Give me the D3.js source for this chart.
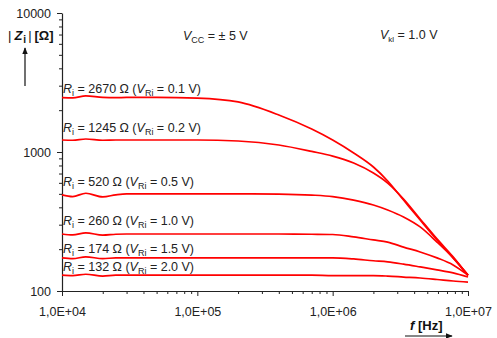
<!DOCTYPE html>
<html>
<head>
<meta charset="utf-8">
<script src="https://cdn.jsdelivr.net/npm/d3@7"></script>
<style>
  body { margin: 0; background: #fff; }
  svg { font-family: "Liberation Sans", Arial, sans-serif; }
</style>
</head>
<body>
<div id="chart"></div>
<script>
// frequencies (Hz) shared by all series
const freq = [1e4, 1.2e4, 1.5e4, 2e4, 2.5e4, 3e4, 5e4, 1e5, 2e5, 4e5, 7e5, 1e6,
  1.43e6, 2e6, 2.55e6, 3.34e6, 4.43e6, 5.9e6, 7.76e6, 1e7];

// |Zi| in ohm, one array per Ri
const z2670 = [2460, 2450, 2530, 2470, 2460, 2470, 2470, 2440, 2291, 1846, 1463, 1220,
  984, 780, 619, 451, 324, 233, 173, 130];
const z1245 = [1220, 1215, 1240, 1215, 1220, 1220, 1220, 1220, 1200, 1123, 1010, 935,
  833, 706, 598, 459, 330, 237, 176, 129];
const z520 = [492, 478, 505, 475, 492, 500, 500, 500, 500, 498, 490, 478,
  451, 416, 383, 341, 289, 225, 173, 130];
const z260 = [257, 253, 262, 252, 256, 257, 257, 257, 257, 257, 256, 255,
  245, 233, 225, 207, 191, 173, 154, 130];
const z174 = [173, 171, 176, 171, 173, 173, 173, 173, 173, 173, 173, 173,
  170, 165, 162, 156, 149, 142, 135, 126];
const z132 = [130, 129, 132, 128, 130, 130, 130, 130, 130, 130, 130, 129,
  129, 129, 128, 126, 124, 121, 118, 116];

const seriesValues = [z2670, z1245, z520, z260, z174, z132];
const riLabels = ['2670', '1245', '520', '260', '174', '132'];
const vriLabels = ['0.1', '0.2', '0.5', '1.0', '1.5', '2.0'];
const labelBaselines = [93, 132, 186, 225, 252.5, 270.5];

const xTicks = [1e4, 1e5, 1e6, 1e7];
const xTickLabels = ['1,0E+04', '1,0E+05', '1,0E+06', '1,0E+07'];
const yTicks = [100, 1000, 10000];
const yTickLabels = ['100', '1000', '10000'];

const W = 497, H = 338;
const svg = d3.select('#chart').append('svg')
  .attr('width', W).attr('height', H);

const x = d3.scaleLog().domain([1e4, 1e7]).range([62, 468]);
const y = d3.scaleLog().domain([100, 10000]).range([291, 13]);

// minor ticks
const minorX = [];
for (let e = 4; e < 7; e++) for (let k = 2; k <= 9; k++) minorX.push(k * Math.pow(10, e));
const minorY = [];
for (let e = 2; e < 4; e++) for (let k = 2; k <= 9; k++) minorY.push(k * Math.pow(10, e));

svg.append('g')
  .attr('transform', 'translate(0,291)')
  .call(d3.axisBottom(x).tickValues(minorX).tickSize(3).tickFormat(''))
  .call(g => g.select('.domain').remove())
  .selectAll('line').attr('stroke', '#222');

svg.append('g')
  .attr('transform', 'translate(62,0)')
  .call(d3.axisLeft(y).tickValues(minorY).tickSize(3).tickFormat(''))
  .call(g => g.select('.domain').remove())
  .selectAll('line').attr('stroke', '#222');

const xAxis = svg.append('g')
  .attr('transform', 'translate(0,291)')
  .call(d3.axisBottom(x).tickValues(xTicks).tickSize(5).tickSizeOuter(0)
    .tickFormat((d, i) => xTickLabels[i]));
xAxis.select('.domain').attr('stroke', '#222').attr('stroke-width', 1.2);
xAxis.selectAll('line').attr('stroke', '#222');
xAxis.selectAll('text').attr('fill', '#222').style('font-size', '12.5px').attr('y', 16);

const yAxis = svg.append('g')
  .attr('transform', 'translate(62,0)')
  .call(d3.axisLeft(y).tickValues(yTicks).tickSize(5).tickSizeOuter(0)
    .tickFormat((d, i) => yTickLabels[i]));
yAxis.select('.domain').attr('stroke', '#222').attr('stroke-width', 1.2);
yAxis.selectAll('line').attr('stroke', '#222');
yAxis.selectAll('text').attr('fill', '#222').style('font-size', '12.5px').attr('x', -11);

// curves
const line = d3.line()
  .x((d, i) => x(freq[i]))
  .y(d => y(d))
  .curve(d3.curveMonotoneX);

svg.append('g').selectAll('path')
  .data(seriesValues)
  .join('path')
  .attr('fill', 'none')
  .attr('stroke', '#ff0000')
  .attr('stroke-width', 1.7)
  .attr('d', d => line(d));

// series labels
riLabels.forEach((r, i) => {
  const t = svg.append('text')
    .attr('x', 63).attr('y', labelBaselines[i])
    .attr('fill', '#222').style('font-size', '12.5px');
  t.append('tspan').attr('font-style', 'italic').text('R');
  t.append('tspan').attr('dy', 3).style('font-size', '9px').text('i');
  t.append('tspan').attr('dy', -3).text(` = ${r} \u03A9  (`);
  t.append('tspan').attr('font-style', 'italic').text('V');
  t.append('tspan').attr('dy', 3).style('font-size', '9px').text('Ri');
  t.append('tspan').attr('dy', -3).text(` = ${vriLabels[i]} V)`);
});

// header notes
const vcc = svg.append('text').attr('x', 183).attr('y', 40)
  .attr('fill', '#222').style('font-size', '12.5px');
vcc.append('tspan').attr('font-style', 'italic').text('V');
vcc.append('tspan').attr('dy', 3).style('font-size', '9px').text('CC');
vcc.append('tspan').attr('dy', -3).text(' = \u00B1 5 V');

const vkl = svg.append('text').attr('x', 380).attr('y', 39)
  .attr('fill', '#222').style('font-size', '12.5px');
vkl.append('tspan').attr('font-style', 'italic').text('V');
vkl.append('tspan').attr('dy', 3).style('font-size', '8px').text('kl');
vkl.append('tspan').attr('dy', -3).text(' = 1.0 V');

// y axis title
const yt = svg.append('text').attr('x', 8).attr('y', 40)
  .attr('fill', '#111').style('font-size', '13px');
yt.append('tspan').text('|');
yt.append('tspan').attr('dx', 3).attr('font-weight', 'bold').attr('font-style', 'italic').text('Z');
yt.append('tspan').attr('dx', 1).attr('dy', 3).attr('font-weight', 'bold').style('font-size', '10px').text('i');
yt.append('tspan').attr('dx', 2).attr('dy', -3).text('|');
yt.append('tspan').attr('dx', 3).attr('font-weight', 'bold').text('[\u03A9]');

const defs = svg.append('defs');
defs.append('marker').attr('id', 'arr')
  .attr('viewBox', '0 0 10 10').attr('refX', 9).attr('refY', 5)
  .attr('markerWidth', 6).attr('markerHeight', 6).attr('orient', 'auto')
  .append('path').attr('d', 'M0,1 L10,5 L0,9 Z').attr('fill', '#111');

svg.append('line')
  .attr('x1', 25).attr('y1', 86).attr('x2', 25).attr('y2', 48)
  .attr('stroke', '#111').attr('stroke-width', 1.2)
  .attr('marker-end', 'url(#arr)');

// x axis title
const xt = svg.append('text').attr('x', 410).attr('y', 330)
  .attr('fill', '#111').style('font-size', '13px').attr('font-weight', 'bold');
xt.append('tspan').attr('font-style', 'italic').text('f');
xt.append('tspan').text(' [Hz]');

svg.append('line')
  .attr('x1', 405).attr('y1', 336).attr('x2', 452).attr('y2', 336)
  .attr('stroke', '#111').attr('stroke-width', 1.2)
  .attr('marker-end', 'url(#arr)');
</script>
</body>
</html>
